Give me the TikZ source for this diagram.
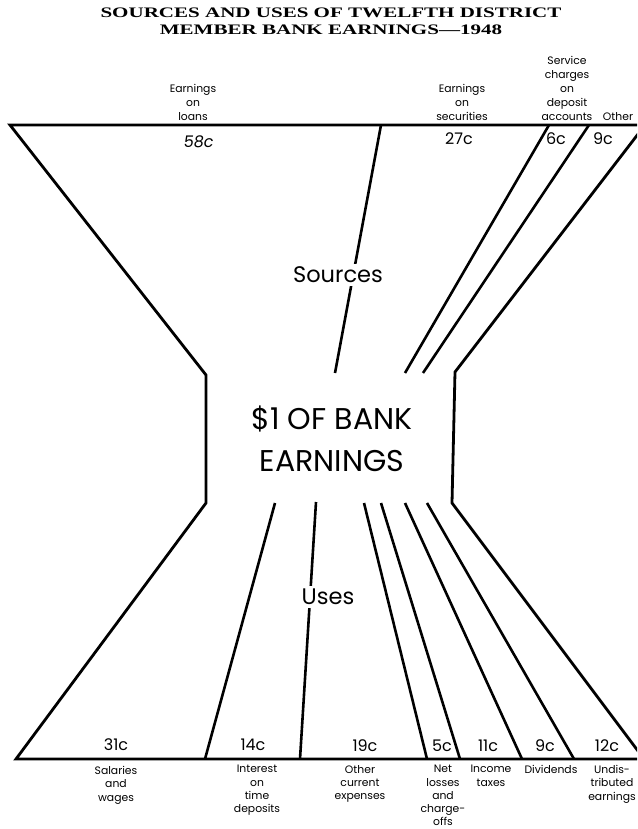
\documentclass[tikz,border=0pt]{standalone}
\usepackage{fontspec}
\setmainfont{Poppins}
\newfontfamily\titlefont{Liberation Serif}
\newfontfamily\slantfont[FakeSlant=0.15]{Poppins}

\begin{document}
\begin{tikzpicture}[x=1pt, y=-1pt, line join=miter]

% Fix the frame of the whole picture
\useasboundingbox (0,0) rectangle (637,829);
\clip (0,0) rectangle (637,829);

% Define styles for lines and labels
\tikzstyle{funnel}=[line width=2.8pt]
\tikzstyle{share}=[line width=2.6pt]
\tikzstyle{item}=[font=\fontsize{10.8}{14}\selectfont, align=center, inner sep=0pt]
\tikzstyle{cents}=[font=\fontsize{16}{18}\selectfont, inner sep=0pt]
\tikzstyle{head}=[font=\fontsize{22.5}{26}\selectfont, fill=white, inner sep=3pt]

% Corners of the funnel
\coordinate (tl) at (10,125);
\coordinate (tr) at (645,125);
\coordinate (mlt) at (206,375);
\coordinate (mlb) at (206,503);
\coordinate (mrt) at (455,372);
\coordinate (mrb) at (452,503);
\coordinate (bl) at (16,759);
\coordinate (br) at (644,759);

\draw[funnel] (tl) -- (tr) -- (mrt) -- (mrb) -- (br) -- (bl) -- (mlb) -- (mlt) -- cycle;

% Dividers of the sources
\coordinate (s1a) at (381,125); \coordinate (s1b) at (335,373);
\coordinate (s2a) at (549,125); \coordinate (s2b) at (405,373);
\coordinate (s3a) at (589,125); \coordinate (s3b) at (423,373);
\foreach \i in {1,2,3}
  \draw[share] (s\i a) -- (s\i b);

% Dividers of the uses
\coordinate (u1a) at (275,503); \coordinate (u1b) at (205,759);
\coordinate (u2a) at (316,502); \coordinate (u2b) at (300,759);
\coordinate (u3a) at (364,503); \coordinate (u3b) at (427,759);
\coordinate (u4a) at (381,503); \coordinate (u4b) at (460,759);
\coordinate (u5a) at (405,503); \coordinate (u5b) at (522,759);
\coordinate (u6a) at (427,503); \coordinate (u6b) at (574,759);
\foreach \i in {1,...,6}
  \draw[share] (u\i a) -- (u\i b);

% Title
\node[anchor=north, align=center, inner sep=0pt,
      font=\titlefont\bfseries\fontsize{14.5}{16.5}\selectfont] (title) at (331,8)
  {\scalebox{1.45}[1]{SOURCES AND USES OF TWELFTH DISTRICT}\\
   \scalebox{1.45}[1]{MEMBER BANK EARNINGS—1948}};

% Middle texts
\node[head] (sources) at (338,275) {Sources};
\node[head] (uses) at (328,597) {Uses};
\node[font=\fontsize{30}{42}\selectfont, align=center] (dollar) at (332,439) {\$1 OF BANK\\EARNINGS};

% Sources on top
\node[item, anchor=south] (loans) at (193,121) {Earnings\\on\\loans};
\node[item, anchor=south] (secur) at (462,121) {Earnings\\on\\securities};
\node[item, anchor=south] (service) at (567,121) {Service\\charges\\on\\deposit\\accounts};
\node[item, anchor=south] (other) at (618,121) {Other};

\node[cents, font=\slantfont\fontsize{16}{18}\selectfont] (c58) at (198,142) {58c};
\node[cents] (c27) at (459,139) {27c};
\node[cents] (c6) at (556,139) {6c};
\node[cents] (c9) at (603,139) {9c};

% Uses at the bottom
\node[cents] (c31) at (116,745) {31c};
\node[cents] (c14) at (253,745) {14c};
\node[cents] (c19) at (365,746) {19c};
\node[cents] (c5) at (442,746) {5c};
\node[cents] (c11) at (488,746) {11c};
\node[cents] (c9b) at (545,746) {9c};
\node[cents] (c12) at (607,746) {12c};

\tikzstyle{use}=[item, anchor=north, font=\fontsize{10.8}{13.3}\selectfont]
\node[use] (salaries) at (116,766) {Salaries\\and\\wages};
\node[use] (interest) at (257,765) {Interest\\on\\time\\deposits};
\node[use] (othexp) at (360,765) {Other\\current\\expenses};
\node[use] (losses) at (443,765) {Net\\losses\\and\\charge-\\offs};
\node[use] (taxes) at (491,765) {Income\\taxes};
\node[use] (divid) at (551,765) {Dividends};
\node[use] (undis) at (612,765) {Undis-\\tributed\\earnings};

\end{tikzpicture}
\end{document}
